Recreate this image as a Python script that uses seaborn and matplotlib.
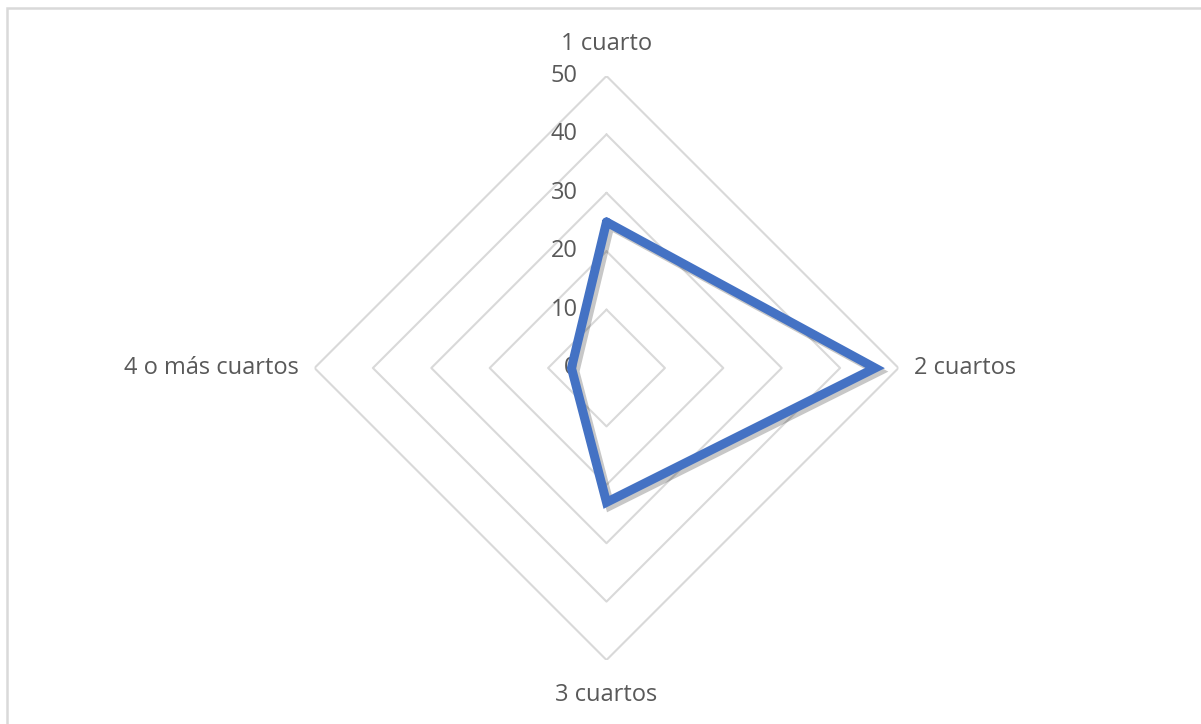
import numpy as np
import pandas as pd
import matplotlib
matplotlib.use("Agg")
import matplotlib.pyplot as plt
import matplotlib.patheffects as pe
from matplotlib.patches import Rectangle
import seaborn as sns

# Data
categories = ["1 cuarto", "2 cuartos", "3 cuartos", "4 o más cuartos"]
values = [25, 46, 23, 6]
levels = [10, 20, 30, 40, 50]
tick_labels = ["0", "10", "20", "30", "40", "50"]

sns.set_style("white")
plt.rcParams["font.family"] = ["Open Sans", "DejaVu Sans"]

W, H = 1201, 724
cx, cy, rad = 606.5, 368, 292  # centre and outer radius in pixels

fig = plt.figure(figsize=(W / 100, H / 100), dpi=100)
# chart frame, only left and top edges are inside the picture
fig.patches.append(Rectangle((7 / W, -0.1), 1.2, 1.1 - 8 / H, transform=fig.transFigure,
                             fill=False, edgecolor="#d9d9d9", linewidth=1.8))
ax = fig.add_axes([(cx - rad) / W, (H - cy - rad) / H, 2 * rad / W, 2 * rad / H],
                  projection="polar")
ax.set_theta_offset(np.pi / 2)
ax.set_theta_direction(-1)
ax.grid(False)
ax.spines["polar"].set_visible(False)
ax.patch.set_alpha(0)

n = len(categories)
theta = np.arange(n + 1) * 2 * np.pi / n  # last point closes the loop at 2*pi

# diamond gridlines
for lv in levels:
    ax.plot(theta, [lv] * (n + 1), color="#d9d9d9", linewidth=1.5, zorder=1)

# data series
df = pd.DataFrame({"theta": theta, "value": values + values[:1]})
sns.lineplot(data=df, x="theta", y="value", sort=False, estimator=None, ax=ax,
             color="#4472C4", linewidth=6.5, zorder=3, legend=False)
ax.lines[-1].set_solid_joinstyle("miter")
ax.lines[-1].set_path_effects([
    pe.SimpleLineShadow(offset=(2.5, -2.5), shadow_color="#000000", alpha=0.22),
    pe.Normal(),
])
ax.set_xlabel("")
ax.set_ylabel("")
ax.set_xticks([])
ax.set_yticks([])
ax.set_ylim(0, 50)

# radial tick labels, left of the vertical axis
for i, lab in enumerate(tick_labels):
    ax.annotate(lab, xy=(0, i * 10), xytext=(-29, 0), textcoords="offset pixels",
                ha="right", va="center", fontsize=17, color="#595959",
                annotation_clip=False, zorder=2)

# category labels
pos = [(0, 55.5, "center", "center"), (np.pi / 2, 52.6, "left", "center"),
       (np.pi, 56.0, "center", "center"), (3 * np.pi / 2, 52.6, "right", "center")]
for cat, (t, r, ha, va) in zip(categories, pos):
    ax.text(t, r, cat, ha=ha, va=va, fontsize=17, color="#595959", clip_on=False)

fig.savefig("out.png", dpi=100)
